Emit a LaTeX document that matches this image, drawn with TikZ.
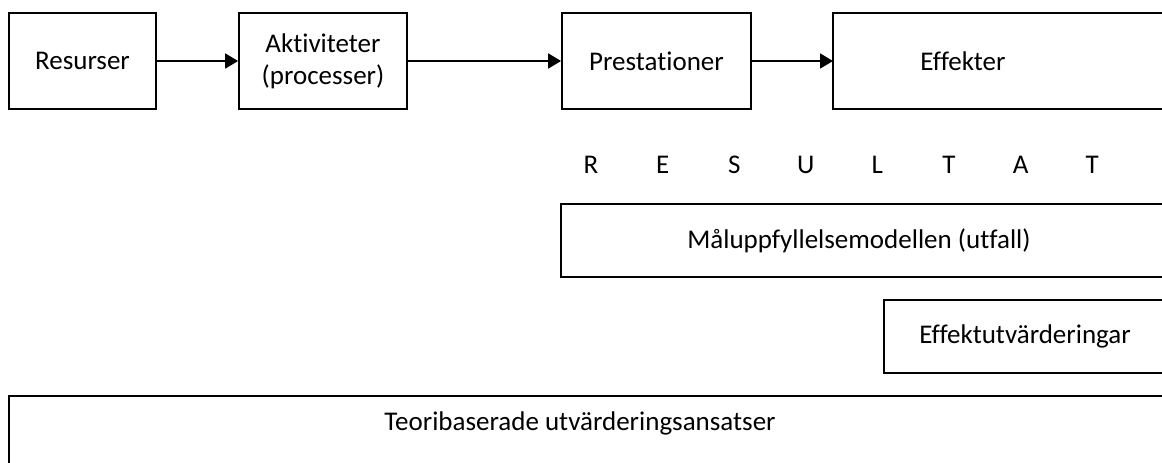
\documentclass[tikz,border=0pt]{standalone}
\usepackage{fontspec}
\setmainfont{Carlito}[Ligatures=NoCommon]
\usepackage{tikz}
\usetikzlibrary{arrows.meta}
\tikzset{box/.style={draw, line width=1.8pt, rectangle, inner sep=0pt, align=center}, openbox/.style={box, draw=none, outer sep=0pt}, flow/.style={-{Triangle[length=13pt,width=15pt]}, line width=1.8pt}, edge/.style={line width=1.8pt}}

\begin{document}
\begin{tikzpicture}[x=1pt, y=-1pt, font=\fontsize{27}{32}\selectfont]
	
	% bounding box (pixel grid of the reference)
	\useasboundingbox (0,0) rectangle (1162,463);
	
	% chain of boxes
	\node[box, minimum width=147pt, minimum height=96pt] (res) at (82.5,61) {Resurser};
	\node[box, minimum width=168pt, minimum height=96pt] (akt) at (323,61) {Aktiviteter\\(processer)};
	\node[box, minimum width=189pt, minimum height=96pt] (pre) at (656.5,61) {Prestationer};
	\node[openbox, minimum width=260pt, minimum height=96pt] (eff) at (963,61) {Effekter};
	\draw [edge] (1170,13) -- (eff.north west) -- (eff.south west) -- (1170,109);
	
	% arrows
	\draw [flow] (res) -- (akt);
	\draw [flow] (akt) -- (pre);
	\draw [flow] (pre) -- (eff);
	
	% spaced word
	\foreach \l [count=\i from 0] in {R,E,S,U,L,T,A,T}
		\node[anchor=base] (r\i) at ({591+71.6*\i},173) {\l};
	
	% evaluation approaches
	\node[openbox, minimum width=596pt, minimum height=73pt] (mal) at (859,240.5) {Måluppfyllelsemodellen (utfall)};
	\draw [edge] (1170,204) -- (mal.north west) -- (mal.south west) -- (1170,277);
	
	\node[openbox, minimum width=282pt, minimum height=73pt] (eut) at (1025,336.5) {Effektutvärderingar};
	\draw [edge] (1170,300) -- (eut.north west) -- (eut.south west) -- (1170,373);
	
	\node[openbox, minimum width=1142pt, minimum height=54pt] (teo) at (580,423) {Teoribaserade utvärderingsansatser};
	\draw [edge] (1170,396) -- (teo.north west) -- (9,470);
	
\end{tikzpicture}
\end{document}
